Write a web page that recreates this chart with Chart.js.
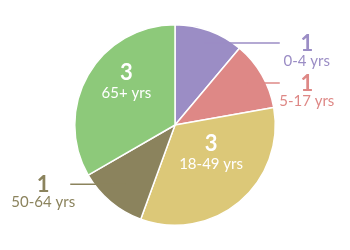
<!DOCTYPE html>
<html>
<head>
<meta charset="utf-8">
<script src="https://cdn.jsdelivr.net/npm/chart.js@4"></script>
<style>
  html, body { margin: 0; padding: 0; background: #fff; }
  #wrap { width: 350px; height: 250px; }
</style>
</head>
<body>
<div id="wrap"><canvas id="ageChart" width="350" height="250"></canvas></div>
<script>
const ageGroups = ["0-4 yrs", "5-17 yrs", "18-49 yrs", "50-64 yrs", "65+ yrs"];
const counts = [1, 1, 3, 1, 3];

const sliceColors = ["#9b8dc5", "#de8886", "#dcc878", "#8b835d", "#8dc97a"];
// radius fraction where the leader line leaves a small slice (null = label inside)
const leaderRadius = [0.87, 0.84, null, 0.77, null];

const FONT = "Lato, 'Open Sans', sans-serif";

const pieLabels = {
  id: "pieLabels",
  afterDatasetsDraw(chart) {
    const ctx = chart.ctx;
    const arcs = chart.getDatasetMeta(0).data;
    ctx.save();
    ctx.textAlign = "center";
    ctx.textBaseline = "alphabetic";
    arcs.forEach((arc, i) => {
      const { x, y, startAngle, endAngle, outerRadius } = arc.getProps(["x", "y", "startAngle", "endAngle", "outerRadius"], true);
      const mid = (startAngle + endAngle) / 2;
      const r = outerRadius;
      if (leaderRadius[i] == null) {
        const ax = x + Math.cos(mid) * r * 0.56;
        const ay = y + Math.sin(mid) * r * 0.56;
        ctx.fillStyle = "#fff";
        ctx.font = "bold 22px " + FONT;
        ctx.fillText(String(counts[i]), ax, ay - 17);
        ctx.font = "15px " + FONT;
        ctx.fillText(ageGroups[i], ax, ay + 1);
      } else {
        const sx = x + Math.cos(mid) * r * leaderRadius[i];
        const ly = y + Math.sin(mid) * r * leaderRadius[i];
        const right = Math.cos(mid) >= 0;
        const ex = x + (right ? 1 : -1) * r * 1.045;
        ctx.strokeStyle = sliceColors[i];
        ctx.lineWidth = 1.5;
        ctx.beginPath();
        ctx.moveTo(sx, ly);
        ctx.lineTo(ex, ly);
        ctx.stroke();
        const tx = ex + (right ? 27 : -27);
        ctx.fillStyle = sliceColors[i];
        ctx.font = "bold 22px " + FONT;
        ctx.fillText(String(counts[i]), tx, ly + 8);
        ctx.font = "15px " + FONT;
        ctx.fillText(ageGroups[i], tx, ly + 23);
      }
    });
    ctx.restore();
  }
};

new Chart(document.getElementById("ageChart"), {
  type: "pie",
  data: {
    labels: ageGroups,
    datasets: [{
      data: counts,
      backgroundColor: sliceColors,
      borderColor: "#fff",
      borderWidth: 1.5
    }]
  },
  options: {
    responsive: false,
    animation: false,
    layout: { padding: { top: 24, bottom: 24 } },
    plugins: { legend: { display: false }, tooltip: { enabled: false } }
  },
  plugins: [pieLabels]
});
</script>
</body>
</html>
